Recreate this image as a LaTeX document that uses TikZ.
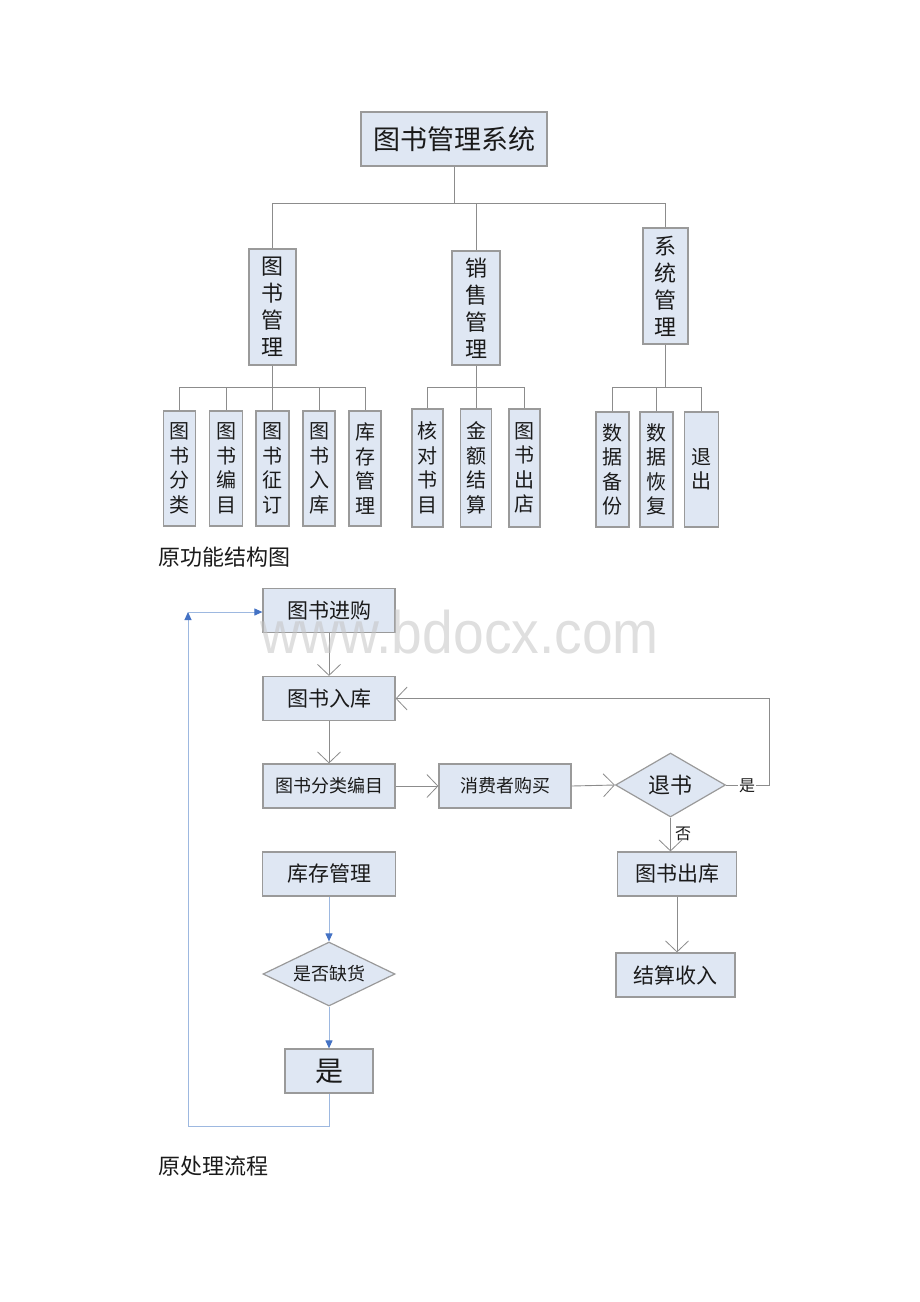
\documentclass[tikz,border=0pt]{standalone}
\usepackage{fontspec}
\usepackage{graphicx}
\setmainfont{Noto Sans CJK SC}
\newfontfamily\wmfont{Liberation Sans}
\usetikzlibrary{shapes.geometric,arrows.meta}
\definecolor{boxfill}{HTML}{DFE7F3}
\definecolor{boxline}{HTML}{9A9A9A}
\definecolor{lineg}{HTML}{8C8C8C}
\definecolor{txt}{HTML}{1A1A1A}
\definecolor{blueline}{HTML}{9DB8E0}
\definecolor{bluetip}{HTML}{4472C4}
\definecolor{wm}{HTML}{C4C4C4}
\begin{document}
\begin{tikzpicture}[x=1pt,y=-1pt,
 box/.style={draw=boxline, fill=boxfill, line width=1.2pt, inner sep=0pt, text=txt, align=center},
 l2/.style={box, font=\fontsize{22}{27}\selectfont},
 l3/.style={box, font=\fontsize{20}{24.5}\selectfont, minimum height=115pt},
 fbox/.style={box, font=\fontsize{21}{24}\selectfont, minimum width=132pt, minimum height=44pt},
 dia/.style={box, diamond, aspect=1.7},
 ln/.style={draw=lineg, line width=0.9pt},
 varrow/.style={ln, -{Straight Barb[length=11pt,width=23pt,line width=0.8pt]}},
 barrow/.style={draw=blueline, line width=1pt, -{Triangle[length=8pt,width=7pt,color=bluetip]}},
 captxt/.style={anchor=west, text=txt, font=\fontsize{22}{26}\selectfont},
]
\useasboundingbox (0,0) rectangle (920,1302);

% ---------- function structure ----------
\node[box, minimum width=186pt, minimum height=54pt, font=\fontsize{27}{30}\selectfont] (root) at (454,139) {图书管理系统};

\node[l2, minimum width=47pt, minimum height=116pt] (l2a) at (272.5,307) {图\\书\\管\\理};
\node[l2, minimum width=48pt, minimum height=114pt] (l2b) at (476,308) {销\\售\\管\\理};
\node[l2, minimum width=45pt, minimum height=116pt] (l2c) at (665.5,286) {系\\统\\管\\理};

\coordinate (bus1) at (458,203);
\draw[ln] (root.south) -- (root.south |- bus1);
\draw[ln] (l2a.north) -- (l2a.north |- bus1) -- (l2c.north |- bus1) -- (l2c.north);
\draw[ln] (l2b.north) -- (l2b.north |- bus1);

\node[l3, minimum width=32pt] (a1) at (179.5,468.5) {图\\书\\分\\类};
\node[l3, minimum width=33pt] (a2) at (226,468.5) {图\\书\\编\\目};
\node[l3, minimum width=33pt] (a3) at (272.5,468.5) {图\\书\\征\\订};
\node[l3, minimum width=32pt] (a4) at (319,468.5) {图\\书\\入\\库};
\node[l3, minimum width=32pt] (a5) at (365,468.5) {库\\存\\管\\理};

\node[l3, minimum width=31pt, minimum height=118pt] (b1) at (427.5,468) {核\\对\\书\\目};
\node[l3, minimum width=31pt, minimum height=118pt] (b2) at (476,468) {金\\额\\结\\算};
\node[l3, minimum width=31pt, minimum height=118pt] (b3) at (524.5,468) {图\\书\\出\\店};

\node[l3, minimum width=33pt] (c1) at (612.5,469.5) {数\\据\\备\\份};
\node[l3, minimum width=33pt] (c2) at (656.5,469.5) {数\\据\\恢\\复};
\node[l3, minimum width=34pt] (c3) at (701.5,469.5) {退\\出};

\coordinate (bus2) at (0,387);
\draw[ln] (l2a.south) -- (l2a.south |- bus2);
\draw[ln] (a1.north) -- (a1.north |- bus2) -- (a5.north |- bus2) -- (a5.north);
\foreach \n in {a2,a3,a4} \draw[ln] (\n.north) -- (\n.north |- bus2);
\draw[ln] (l2b.south) -- (l2b.south |- bus2);
\draw[ln] (b1.north) -- (b1.north |- bus2) -- (b3.north |- bus2) -- (b3.north);
\draw[ln] (b2.north) -- (b2.north |- bus2);
\draw[ln] (l2c.south) -- (l2c.south |- bus2);
\draw[ln] (c1.north) -- (c1.north |- bus2) -- (c3.north |- bus2) -- (c3.north);
\draw[ln] (c2.north) -- (c2.north |- bus2);

\node[captxt] (cap1) at (155,557) {原功能结构图};

% ---------- process flow ----------
\node[fbox] (buy) at (329,610.5) {图书进购};
\node[fbox] (stockin) at (329,698.5) {图书入库};
\node[fbox, font=\fontsize{18}{22}\selectfont] (classify) at (329,786) {图书分类编目};
\node[fbox, font=\fontsize{18}{22}\selectfont] (consumer) at (505,786) {消费者购买};
\node[dia, minimum width=110pt, minimum height=64pt, font=\fontsize{22}{24}\selectfont] (ret) at (670.5,785) {退书};
\node[fbox, minimum width=119pt] (out) at (677,874) {图书出库};
\node[fbox, minimum width=119pt] (income) at (675.5,975) {结算收入};
\node[fbox, minimum width=133pt] (stock) at (329,874) {库存管理};
\node[dia, minimum width=132pt, minimum height=64pt, font=\fontsize{18}{22}\selectfont] (short) at (329,974) {是否缺货};
\node[fbox, minimum width=88pt, font=\fontsize{28}{30}\selectfont] (yes) at (329,1071) {是};

\draw[varrow] (buy.south) -- (stockin.north);
\draw[varrow] (stockin.south) -- (classify.north);
\draw[varrow] (classify.east) -- (consumer.west);
\draw[varrow] (consumer.east) -- (ret.west);
\coordinate (retc) at (769,785);
\draw[varrow] (ret.east) -- (retc) |- (stockin.east);
\node[fill=white, inner sep=1pt, text=txt, font=\fontsize{16}{18}\selectfont] (lyes) at (747,786) {是};
\draw[varrow] (ret.south) -- (ret.south |- out.north);
\node[text=txt, font=\fontsize{16}{18}\selectfont] (lno) at (683,834) {否};
\draw[varrow] (out.south) -- (out.south |- income.north);

\draw[barrow] (stock.south) -- (short.north);
\draw[barrow] (short.south) -- (yes.north);
\coordinate (lb) at (188,1126);
\coordinate (lt) at (188,612);
\draw[barrow] (yes.south) |- (lb) -- (lt);
\draw[barrow] (lt) -- (buy.west |- lt);

\node[captxt] (cap2) at (155,1166) {原处理流程};

\node[anchor=base, inner sep=0pt, text=wm, text opacity=0.55, font=\wmfont\fontsize{60}{64}\selectfont] (wmk) at (459.5,653) {\scalebox{0.92}[1]{www.bdocx.com}};
\end{tikzpicture}
\end{document}
